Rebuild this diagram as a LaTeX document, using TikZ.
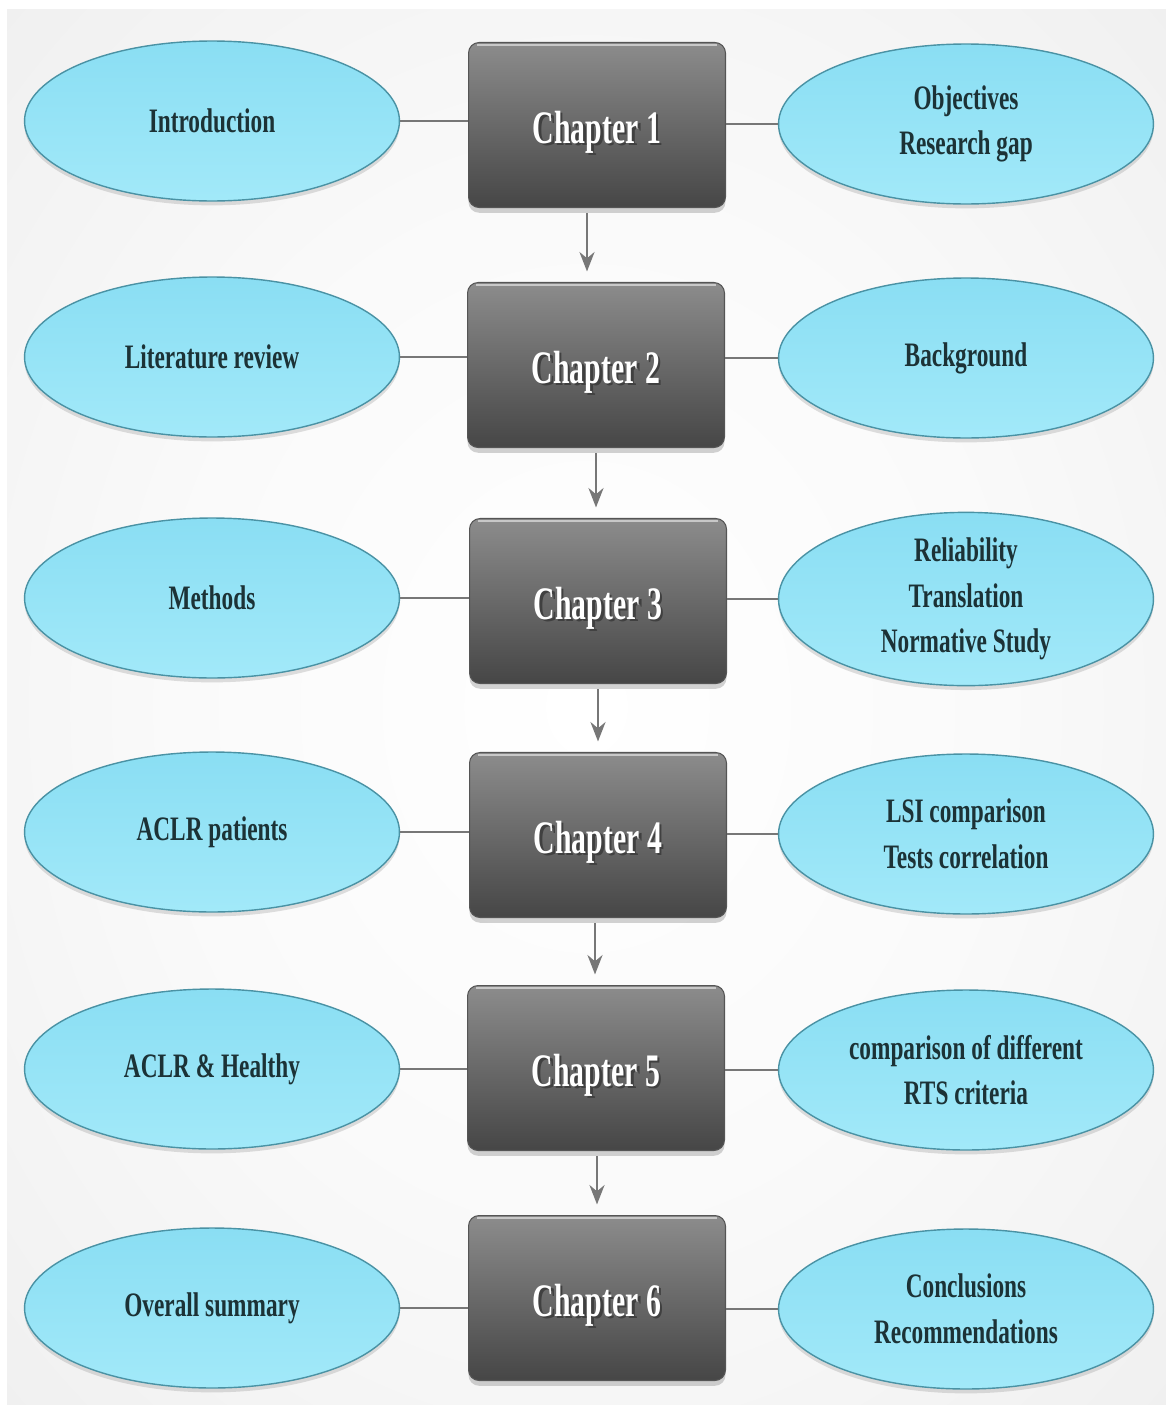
\documentclass[tikz,border=0pt]{standalone}
\usepackage{fontspec}
\newfontfamily\cond{Liberation Serif}[FakeStretch=0.68]
\newfontfamily\condc{Liberation Serif}[FakeStretch=0.64]
\usetikzlibrary{shapes.geometric,shadows,arrows.meta,calc}
\definecolor{bgmid}{HTML}{F2F2F2}
\definecolor{bgedge}{HTML}{E8E8E8}
\definecolor{bgcorner}{HTML}{DDDDDD}
\definecolor{boxtop}{HTML}{8C8C8C}
\definecolor{boxbot}{HTML}{464646}
\definecolor{boxedge}{HTML}{555555}
\definecolor{boxhi}{HTML}{C8C8C8}
\definecolor{elltop}{HTML}{8ADEF3}
\definecolor{ellbot}{HTML}{A2E9F9}
\definecolor{elledge}{HTML}{4A92A4}
\definecolor{elltext}{HTML}{1C3236}
\definecolor{lineg}{HTML}{777777}
\pgfdeclareradialshading{bgshade}{\pgfpoint{0bp}{0bp}}{color(0bp)=(white); color(18bp)=(white!98!black); color(50bp)=(bgedge); color(71bp)=(bgcorner)}
\newcommand\shtext[1]{\makebox[0pt][l]{\hspace{1.4pt}\raisebox{-1.4pt}{\color{black!75}#1}}#1}
\begin{document}
\begin{tikzpicture}[x=0.02cm,y=-0.02cm,
  chap/.style={rectangle, rounded corners=6pt, minimum width=5.14cm, minimum height=3.3cm,
    top color=boxtop, bottom color=boxbot, draw=boxedge, line width=0.6pt,
    drop shadow={shadow xshift=0pt, shadow yshift=-3pt, opacity=0.35},
    path picture={\draw[boxhi, line width=1.2pt]
      ([xshift=5pt,yshift=-1.6pt]path picture bounding box.north west) --
      ([xshift=-5pt,yshift=-1.6pt]path picture bounding box.north east);},
    text height=21pt, text depth=0pt,
    font=\condc\bfseries\fontsize{26.5}{30}\selectfont, text=white},
  topic/.style={ellipse, minimum width=7.5cm, minimum height=3.2cm, inner sep=0pt,
    top color=elltop, bottom color=ellbot, draw=elledge, line width=0.8pt,
    drop shadow={shadow xshift=0pt, shadow yshift=-2.5pt, opacity=0.25},
    font=\cond\bfseries\fontsize{19.5}{26}\selectfont, text=elltext, align=center},
  link/.style={draw=lineg, line width=1.6pt},
  flow/.style={link, -{Stealth[length=11pt,width=8.5pt,inset=3.5pt]}, shorten <=3pt, shorten >=6pt}
]
\useasboundingbox (0,0) rectangle (1166,1410);
\fill[white] (0,0) rectangle (1166,1410);
\shade[shading=bgshade] (7,9) rectangle (1166,1404);

% chapters
\node[chap] (c1) at (597,125) {\shtext{Chapter 1}};
\node[chap] (c2) at (596,365) {\shtext{Chapter 2}};
\node[chap] (c3) at (598,601) {\shtext{Chapter 3}};
\node[chap] (c4) at (598,835) {\shtext{Chapter 4}};
\node[chap] (c5) at (596,1068) {\shtext{Chapter 5}};
\node[chap] (c6) at (597,1298) {\shtext{Chapter 6}};

% left topics
\node[topic] (l1) at (212,121) {Introduction};
\node[topic] (l2) at (212,357) {Literature review};
\node[topic] (l3) at (212,598) {Methods};
\node[topic] (l4) at (212,832) {ACLR patients};
\node[topic] (l5) at (212,1069) {ACLR \& Healthy};
\node[topic] (l6) at (212,1308) {Overall summary};

% right topics
\node[topic] (r1) at (966,124) {Objectives\\Research gap};
\node[topic] (r2) at (966,358) {Background};
\node[topic] (r3) at (966,599) {Reliability\\Translation\\Normative Study};
\node[topic] (r4) at (966,834) {LSI comparison\\Tests correlation};
\node[topic] (r5) at (966,1070) {comparison of different\\RTS criteria};
\node[topic] (r6) at (966,1309) {Conclusions\\Recommendations};

% side links
\foreach \i in {1,...,6}{
  \draw[link] (l\i.east) -- (l\i.east -| c\i.west);
  \draw[link] (r\i.west) -- (r\i.west -| c\i.east);
}

% flow arrows
\draw[flow] ([xshift=-0.2cm]c1.south) -- ([xshift=-0.2cm]c1.south |- c2.north);
\draw[flow] (c2.south) -- (c2.south |- c3.north);
\draw[flow] (c3.south) -- (c3.south |- c4.north);
\draw[flow] ([xshift=-0.06cm]c4.south) -- ([xshift=-0.06cm]c4.south |- c5.north);
\draw[flow] ([xshift=0.02cm]c5.south) -- ([xshift=0.02cm]c5.south |- c6.north);
\end{tikzpicture}
\end{document}
